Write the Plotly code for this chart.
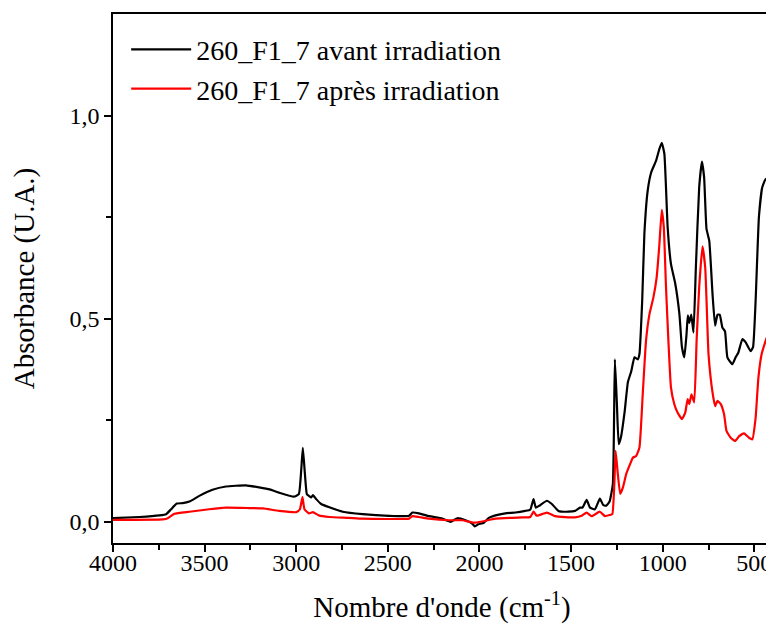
import plotly.graph_objects as go

# spectra (wavenumber in cm-1, absorbance)
wn_avant = [4000, 3855, 3746, 3710, 3683, 3652, 3620, 3583, 3529, 3457, 3384, 3275, 3203, 3145,
            3094, 3013, 2986, 2973, 2964, 2953, 2942, 2931, 2918, 2909, 2891, 2864, 2819, 2746,
            2638, 2493, 2384, 2366, 2330, 2275, 2203, 2158, 2121, 2076, 2040, 2025, 2007, 1976,
            1949, 1913, 1859, 1804, 1750, 1723, 1705, 1692, 1669, 1632, 1605, 1569, 1515, 1478,
            1451, 1438, 1415, 1397, 1370, 1343, 1324, 1308, 1290, 1272, 1261, 1250, 1240, 1228,
            1208, 1190, 1172, 1154, 1136, 1127, 1112, 1100, 1082, 1063, 1036, 1018, 1005, 991,
            973, 955, 931, 909, 895, 882, 870, 863, 855, 844, 832, 819, 801, 786, 774, 761, 746,
            728, 714, 701, 689, 674, 660, 647, 620, 602, 587, 565, 547, 520, 507, 493, 475, 457,
            438, 429, 417, 406]
abs_avant = [0.009, 0.012, 0.016, 0.019, 0.031, 0.045, 0.046, 0.050, 0.064, 0.079, 0.087, 0.090,
             0.085, 0.080, 0.072, 0.062, 0.068, 0.126, 0.182, 0.120, 0.068, 0.064, 0.060, 0.066,
             0.056, 0.044, 0.036, 0.025, 0.019, 0.015, 0.015, 0.023, 0.021, 0.014, 0.008, 0.000,
             0.009, 0.004, -0.004, -0.011, -0.006, -0.002, 0.010, 0.016, 0.021, 0.023, 0.027,
             0.030, 0.056, 0.035, 0.041, 0.052, 0.044, 0.027, 0.025, 0.027, 0.035, 0.035, 0.054,
             0.035, 0.031, 0.057, 0.041, 0.040, 0.050, 0.093, 0.400, 0.290, 0.191, 0.208, 0.270,
             0.344, 0.370, 0.405, 0.400, 0.413, 0.544, 0.709, 0.815, 0.860, 0.889, 0.918, 0.933,
             0.906, 0.725, 0.635, 0.585, 0.512, 0.430, 0.405, 0.462, 0.508, 0.490, 0.510, 0.466,
             0.626, 0.823, 0.887, 0.848, 0.721, 0.692, 0.560, 0.483, 0.510, 0.510, 0.478, 0.469,
             0.405, 0.388, 0.405, 0.417, 0.450, 0.442, 0.420, 0.430, 0.544, 0.750, 0.823, 0.844,
             0.840, 0.823, 0.852]

wn_apres = [4000, 3728, 3701, 3665, 3583, 3475, 3384, 3257, 3181, 3094, 3000, 2980, 2966, 2955,
            2931, 2909, 2877, 2819, 2714, 2638, 2384, 2366, 2330, 2275, 2167, 2094, 2031, 1985,
            1913, 1768, 1723, 1705, 1687, 1632, 1587, 1478, 1442, 1415, 1388, 1343, 1315, 1288,
            1275, 1264, 1257, 1245, 1232, 1217, 1199, 1178, 1163, 1145, 1127, 1109, 1091, 1072,
            1051, 1033, 1018, 1005, 994, 982, 969, 955, 937, 919, 895, 877, 864, 855, 843, 828,
            815, 801, 783, 768, 750, 728, 714, 701, 683, 665, 652, 629, 605, 583, 556, 529, 511,
            493, 478, 460, 438, 420, 411, 402]
abs_apres = [0.005, 0.006, 0.009, 0.020, 0.025, 0.031, 0.035, 0.034, 0.033, 0.027, 0.024, 0.031,
             0.061, 0.031, 0.021, 0.024, 0.016, 0.012, 0.010, 0.008, 0.008, 0.014, 0.012, 0.008,
             0.004, 0.004, -0.002, 0.001, 0.008, 0.011, 0.012, 0.025, 0.015, 0.023, 0.014, 0.011,
             0.015, 0.023, 0.014, 0.025, 0.014, 0.017, 0.019, 0.093, 0.175, 0.118, 0.069, 0.085,
             0.118, 0.142, 0.158, 0.162, 0.183, 0.314, 0.446, 0.512, 0.552, 0.602, 0.684, 0.768,
             0.725, 0.577, 0.446, 0.331, 0.290, 0.269, 0.253, 0.269, 0.302, 0.290, 0.314, 0.294,
             0.446, 0.577, 0.678, 0.626, 0.413, 0.318, 0.285, 0.298, 0.290, 0.265, 0.224, 0.207,
             0.199, 0.211, 0.218, 0.207, 0.203, 0.256, 0.354, 0.413, 0.446, 0.470, 0.544, 0.618]

x_ticks = [4000, 3500, 3000, 2500, 2000, 1500, 1000, 500]
x_labels = ["4000", "3500", "3000", "2500", "2000", "1500", "1000", "500"]
y_ticks = [0.0, 0.5, 1.0]
y_labels = ["0,0", "0,5", "1,0"]

font = "Liberation Serif"

fig = go.Figure()
fig.add_trace(go.Scatter(
    x=wn_avant, y=abs_avant, mode="lines",
    line=dict(color="black", width=2.2, shape="spline", smoothing=0.4),
    name="260_F1_7 avant irradiation",
))
fig.add_trace(go.Scatter(
    x=wn_apres, y=abs_apres, mode="lines",
    line=dict(color="#ff0000", width=2.2, shape="spline", smoothing=0.4),
    name="260_F1_7 après irradiation",
))

# page body adds ~8px, so the figure is a bit smaller than the window
fig.update_layout(
    width=766, height=622,
    margin=dict(l=105, r=1, t=6, b=87),
    paper_bgcolor="white",
    plot_bgcolor="white",
    font=dict(family=font, color="black", size=24),
    showlegend=True,
    legend=dict(
        x=0.02, y=0.98, xanchor="left", yanchor="top",
        bgcolor="rgba(0,0,0,0)",
        font=dict(family=font, size=28),
        itemwidth=60,
        tracegroupgap=0,
    ),
    xaxis=dict(
        range=[4000, 409],
        tickvals=x_ticks, ticktext=x_labels,
        ticks="outside", ticklen=7, tickwidth=1.5, tickcolor="black",
        minor=dict(ticks="outside", dtick=250, ticklen=5, tickwidth=1.5, tickcolor="black"),
        showline=True, linecolor="black", linewidth=1.5, mirror=True,
        showgrid=False, zeroline=False,
        tickfont=dict(size=24),
        ticklabelstandoff=-10,
        title=dict(text="Nombre d'onde (cm<sup>-1</sup>)", font=dict(size=29), standoff=22),
    ),
    yaxis=dict(
        range=[-0.052, 1.25],
        tickvals=y_ticks, ticktext=y_labels,
        ticks="outside", ticklen=7, tickwidth=1.5, tickcolor="black",
        minor=dict(ticks="outside", tickvals=[0.25, 0.75], ticklen=5, tickwidth=1.5, tickcolor="black"),
        showline=True, linecolor="black", linewidth=1.5, mirror=True,
        showgrid=False, zeroline=False,
        tickfont=dict(size=24),
        title=dict(text="Absorbance (U.A.)", font=dict(size=29), standoff=28),
    ),
)

fig.write_html("out.html")
